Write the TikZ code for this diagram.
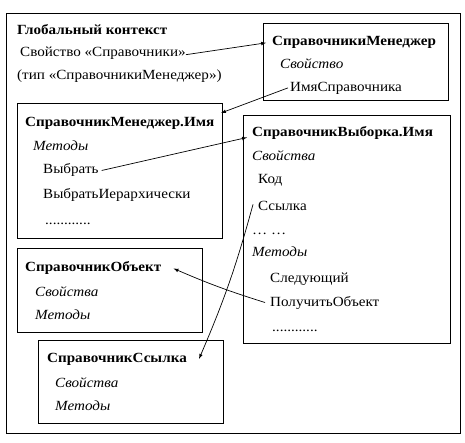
\documentclass[tikz,border=0pt]{standalone}
\usepackage{fontspec}
\setmainfont{Liberation Serif}[FakeStretch=1.08]
\begin{document}
\begin{tikzpicture}[x=1pt,y=-1pt,
  txt/.style={anchor=base west,inner sep=0pt,font=\fontsize{14}{16}\selectfont},
  ttl/.style={txt,font=\fontsize{14}{16}\selectfont\bfseries},
  sec/.style={txt,font=\fontsize{14}{16}\selectfont\itshape},
  box/.style={line width=0.9pt},
  link/.style={->,>=latex,line width=0.7pt}]
  \useasboundingbox (0,0) rectangle (465,443);
  % global context
  \draw[line width=0.7pt] (6,13) rectangle (460,433);
  \node[ttl] (glob) at (17,35) {Глобальный контекст};
  \node[txt] (globprop) at (20,57) {Свойство «Справочники»};
  \node[txt] (globtype) at (17,80) {(тип «СправочникиМенеджер»)};
  % managers
  \draw[box] (263,23) rectangle (448,100);
  \node[ttl] (sm) at (272,46) {СправочникиМенеджер};
  \node[sec] (smprop) at (280,69) {Свойство};
  \node[txt] (smname) at (290,92) {ИмяСправочника};
  % manager of one catalog
  \draw[box] (17,103) rectangle (222,238);
  \coordinate (smitip) at (221,113);
  \node[ttl] (smi) at (25,127) {СправочникМенеджер.Имя};
  \node[sec] (smimeth) at (33,151) {Методы};
  \node[txt] (select) at (43,174) {Выбрать};
  \node[txt] (selecth) at (43,199) {ВыбратьИерархически};
  \node[txt] (smidots) at (45,225) {............};
  % selection
  \draw[box] (243,115) rectangle (450,343);
  \node[ttl] (sv) at (252,137) {СправочникВыборка.Имя};
  \node[sec] (svprop) at (252,161) {Свойства};
  \node[txt] (code) at (258,184) {Код};
  \node[txt] (ref) at (258,211) {Ссылка};
  \node[txt] (svdots) at (252,235) {… …};
  \node[sec] (svmeth) at (252,257) {Методы};
  \node[txt] (next) at (270,282) {Следующий};
  \node[txt] (getobj) at (270,306) {ПолучитьОбъект};
  \node[txt] (svdots2) at (272,331) {............};
  % object
  \draw[box] (17,248) rectangle (202,332);
  \node[ttl] (obj) at (25,272) {СправочникОбъект};
  \node[sec] (objprop) at (35,296) {Свойства};
  \node[sec] (objmeth) at (35,319) {Методы};
  % reference
  \draw[box] (38,340) rectangle (223,423);
  \node[ttl] (lnk) at (47,362) {СправочникСсылка};
  \node[sec] (lnkprop) at (55,387) {Свойства};
  \node[sec] (lnkmeth) at (55,410) {Методы};
  % links
  \draw[link] ([yshift=-1pt]globprop.east) -- ([xshift=-6pt]sm.west);
  \draw[link] ([shift={(-2pt,1pt)}]smname.west) -- (smitip);
  \draw[link] ([xshift=3pt]select.east) -- ([shift={(-5pt,-4pt)}]sv.west);
  \draw[link] ([shift={(-5pt,2pt)}]ref.west) to[bend left=4] ([xshift=12pt]lnk.east);
  \draw[link] ([xshift=-5pt]getobj.west) to[bend left=3] ([xshift=12pt]obj.east);
\end{tikzpicture}
\end{document}
